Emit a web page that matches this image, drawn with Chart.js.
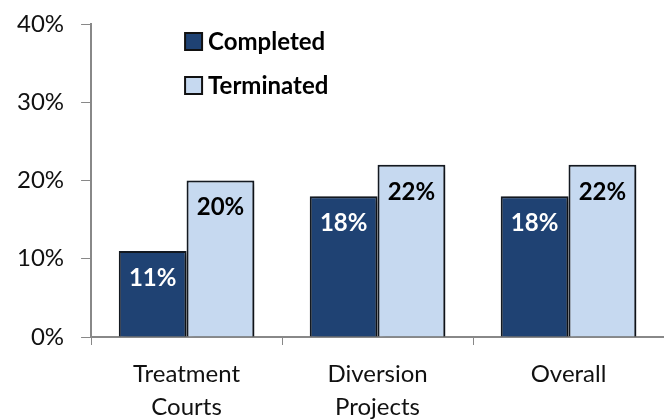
<!DOCTYPE html>
<html>

<head>
    <script src="https://cdnjs.cloudflare.com/ajax/libs/Chart.js/4.4.1/chart.umd.min.js"></script>
    <style>
        body {
            margin: 0;
            background: #fff;
        }
    </style>
    <title>Completed vs Terminated</title>
</head>

<body>
    <canvas id="myChart" width="664" height="420"></canvas>
    <script>
        var categories = [["Treatment", "Courts"], ["Diversion", "Projects"], "Overall"];
        var completed = [11, 18, 18];
        var terminated = [20, 22, 22];
        var yTicks = [0, 10, 20, 30, 40];

        var FONT = "Lato, 'Open Sans', sans-serif";

        // soft drop shadow behind the bars
        var barShadow = {
            id: 'barShadow',
            beforeDatasetsDraw: function (chart) {
                var c = chart.ctx;
                c.save();
                c.shadowColor = 'rgba(0,0,0,0.45)';
                c.shadowBlur = 5;
                c.shadowOffsetX = 3;
                c.shadowOffsetY = 2;
            },
            afterDatasetsDraw: function (chart) {
                chart.ctx.restore();
            }
        };

        // value labels inside the top of each bar
        var barLabels = {
            id: 'barLabels',
            afterDatasetsDraw: function (chart) {
                var c = chart.ctx;
                c.save();
                c.font = "bold 24px " + FONT;
                c.textAlign = 'center';
                c.textBaseline = 'middle';
                chart.data.datasets.forEach(function (ds, i) {
                    chart.getDatasetMeta(i).data.forEach(function (bar, j) {
                        c.fillStyle = ds.labelColor;
                        c.fillText(ds.data[j] + '%', bar.x, bar.y + 27);
                    });
                });
                c.restore();
            }
        };

        // stacked legend in the upper left of the plot
        var stackLegend = {
            id: 'stackLegend',
            afterDraw: function (chart) {
                var c = chart.ctx;
                var a = chart.chartArea;
                c.save();
                c.font = "bold 24px " + FONT;
                c.textBaseline = 'middle';
                chart.data.datasets.forEach(function (ds, i) {
                    var x = a.left + 94;
                    var y = 33 + i * 44;
                    c.fillStyle = ds.backgroundColor;
                    c.fillRect(x, y, 17, 17);
                    c.lineWidth = 2;
                    c.strokeStyle = '#111';
                    c.strokeRect(x, y, 17, 17);
                    c.fillStyle = '#000';
                    c.fillText(ds.label, x + 23, y + 9);
                });
                c.restore();
            }
        };

        var ctx = document.getElementById('myChart').getContext('2d');
        var myChart = new Chart(ctx, {
            type: 'bar',
            data: {
                labels: categories,
                datasets: [{
                    label: 'Completed',
                    data: completed,
                    backgroundColor: '#1F4273',
                    borderColor: '#141a22',
                    borderWidth: 2,
                    labelColor: '#fff'
                }, {
                    label: 'Terminated',
                    data: terminated,
                    backgroundColor: '#C6D9F0',
                    borderColor: '#141a22',
                    borderWidth: 2,
                    labelColor: '#000'
                }]
            },
            options: {
                responsive: false,
                animation: false,
                layout: {
                    padding: { left: 0, top: 24, right: 0, bottom: -17 }
                },
                datasets: {
                    bar: { categoryPercentage: 0.71, barPercentage: 1.0 }
                },
                plugins: {
                    legend: { display: false },
                    tooltip: { enabled: false }
                },
                scales: {
                    x: {
                        grid: {
                            offset: true,
                            drawOnChartArea: false,
                            tickLength: 8,
                            color: '#888'
                        },
                        border: { color: '#888', width: 2 },
                        ticks: {
                            color: '#111',
                            padding: 13,
                            font: { family: FONT, size: 24, lineHeight: 1.375 }
                        }
                    },
                    y: {
                        min: yTicks[0],
                        max: yTicks[yTicks.length - 1],
                        afterFit: function (scale) {
                            // top label may overhang the plot, the outer padding covers it
                            scale.paddingTop = 0;
                        },
                        grid: {
                            drawOnChartArea: false,
                            tickLength: 10,
                            color: '#888'
                        },
                        border: { color: '#888', width: 2 },
                        ticks: {
                            stepSize: 10,
                            color: '#111',
                            padding: 17,
                            font: { family: FONT, size: 24 },
                            callback: function (v) { return v + '%'; }
                        }
                    }
                }
            },
            plugins: [barShadow, barLabels, stackLegend]
        });
    </script>
</body>

</html>
